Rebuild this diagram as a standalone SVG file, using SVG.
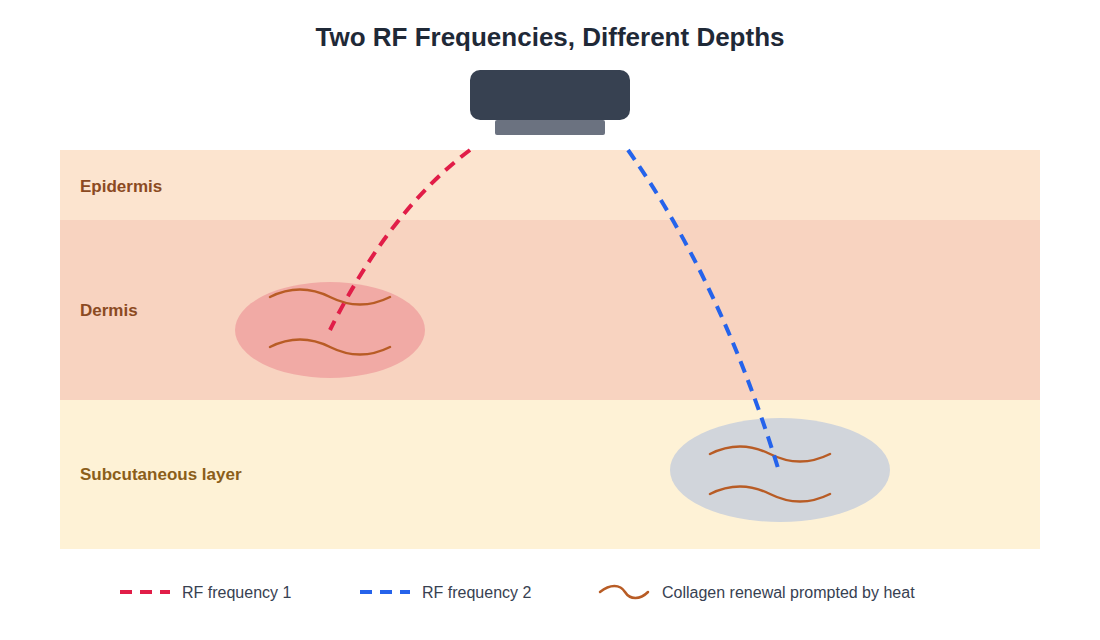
<svg xmlns="http://www.w3.org/2000/svg" width="1100" height="640" viewBox="0 0 1100 640">
<style>
.t{font-family:"Liberation Sans",Arial,sans-serif}
.lay{font-family:"Liberation Sans",Arial,sans-serif;font-size:17px;font-weight:bold}
.wave{fill:none;stroke:#b85c25;stroke-width:2.5;stroke-linecap:round}
.leg{font-family:"Liberation Sans",Arial,sans-serif;font-size:16px;fill:#374151}
</style>
<rect width="1100" height="640" fill="#ffffff"/>
<text class="t" x="550" y="46" text-anchor="middle" font-size="26" font-weight="bold" fill="#1f2937">Two RF Frequencies, Different Depths</text>
<g id="epidermis"><rect x="60" y="150" width="980" height="70" fill="#fce4cf"/><text class="lay" x="80" y="192" fill="#8b4a22">Epidermis</text></g>
<g id="dermis"><rect x="60" y="220" width="980" height="180" fill="#f8d3c0"/><text class="lay" x="80" y="316" fill="#8b4a22">Dermis</text></g>
<g id="subcutaneous"><rect x="60" y="400" width="980" height="149" fill="#fef2d6"/><text class="lay" x="80" y="480" fill="#8b5e1a">Subcutaneous layer</text></g>
<g id="device"><rect x="470" y="70" width="160" height="50" rx="10" fill="#374151"/><rect x="495" y="120" width="110" height="15" rx="2" fill="#6b7280"/></g>
<g id="zone1"><ellipse cx="330" cy="330" rx="95" ry="48" fill="#f1aaa5"/>
<path class="wave" d="M270,297 C290,287 310,287 330,297 S370,307 390,297"/>
<path class="wave" d="M270,347 C290,337 310,337 330,347 S370,357 390,347"/></g>
<g id="zone2"><ellipse cx="780" cy="470" rx="110" ry="52" fill="#d1d5db"/>
<path class="wave" d="M710,454 C730,444 750,444 770,454 S810,464 830,454"/>
<path class="wave" d="M710,494 C730,484 750,484 770,494 S810,504 830,494"/></g>
<g id="connectors" fill="none" stroke-width="4" stroke-dasharray="12,8">
<path d="M470,150 Q390,210 330,330" stroke="#e11d48"/>
<path d="M628,150 Q720,280 778,468" stroke="#2563eb"/>
</g>
<g id="legend">
<line x1="120" y1="592" x2="170" y2="592" stroke="#e11d48" stroke-width="4" stroke-dasharray="12,8"/>
<text class="leg" x="182" y="598">RF frequency 1</text>
<line x1="360" y1="592" x2="410" y2="592" stroke="#2563eb" stroke-width="4" stroke-dasharray="12,8"/>
<text class="leg" x="422" y="598">RF frequency 2</text>
<path class="wave" d="M600,592 C610,584 620,584 625,592 S640,600 648,592"/>
<text class="leg" x="662" y="598">Collagen renewal prompted by heat</text>
</g>
</svg>
